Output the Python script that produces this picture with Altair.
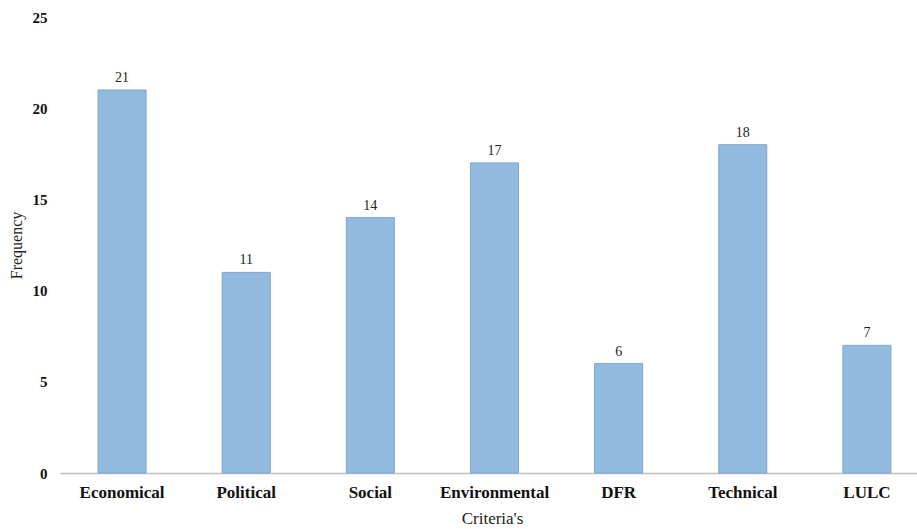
import altair as alt
import pandas as pd

criteria = ["Economical", "Political", "Social", "Environmental", "DFR", "Technical", "LULC"]
frequency = [21, 11, 14, 17, 6, 18, 7]

df = pd.DataFrame({"Criteria": criteria, "Frequency": frequency})

FONT = "Liberation Serif"

x = alt.X(
    "Criteria:N",
    sort=criteria,
    scale=alt.Scale(range=[0, 869], paddingInner=0.613, paddingOuter=0.3065),
    axis=alt.Axis(
        title="Criteria's",
        titleFont=FONT,
        titleFontSize=17,
        titleFontWeight="normal",
        titleColor="#222222",
        titlePadding=10,
        titleX=432,
        labelFont=FONT,
        labelFontSize=17,
        labelFontWeight="bold",
        labelColor="#111111",
        labelAngle=0,
        labelPadding=11,
        ticks=False,
        domainColor="#bfbfbf",
        domainWidth=1.5,
        grid=False,
    ),
)

y = alt.Y(
    "Frequency:Q",
    scale=alt.Scale(domain=[0, 25], nice=False),
    axis=alt.Axis(
        title="Frequency",
        titleFont=FONT,
        titleFontSize=16,
        titleFontWeight="normal",
        titleColor="#222222",
        titlePadding=8,
        labelFont=FONT,
        labelFontSize=15,
        labelFontWeight="bold",
        labelColor="#111111",
        labelPadding=13,
        values=[0, 5, 10, 15, 20, 25],
        ticks=False,
        domain=False,
        grid=False,
    ),
)

bars = alt.Chart(df).mark_bar(
    color="#93badf", stroke="#7ca7d3", strokeWidth=1
).encode(x=x, y=y)

labels = alt.Chart(df).mark_text(
    baseline="bottom", dy=-5, font=FONT, fontSize=14, color="#222222"
).encode(x=x, y=y, text="Frequency:Q")

chart = (
    (bars + labels)
    .properties(
        width=857,
        height=456,
        background="white",
        autosize=alt.AutoSizeParams(type="none"),
        padding={"left": 60, "top": 17, "right": 0, "bottom": 56},
    )
    .configure_view(strokeWidth=0, stroke=None)
)

chart.save("out.html", embed_options={"renderer": "svg", "actions": False})
